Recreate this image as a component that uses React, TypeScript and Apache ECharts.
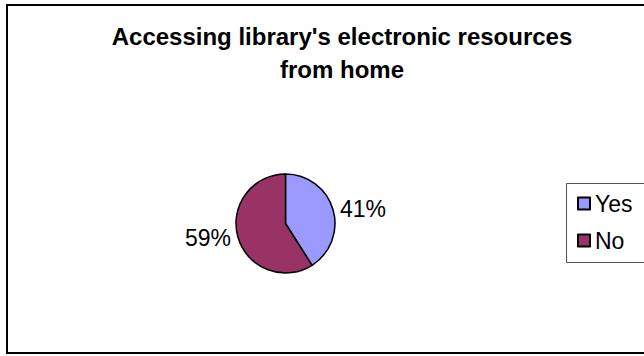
import React, { useEffect, useRef } from "react";
import * as echarts from "echarts";

const titleLines = ["Accessing library's electronic resources", "from home"];
const categories = ["Yes", "No"];
const values = [41, 59];
const colors = ["#9999FF", "#993366"];

export default function App() {
  const ref = useRef<HTMLDivElement>(null);
  useEffect(() => {
    document.body.style.margin = "0";
    const chart = echarts.init(ref.current!, null, { renderer: "svg" });
    chart.setOption({
      animation: false,
      backgroundColor: "#ffffff",
      title: {
        text: titleLines.join("\n"),
        left: 337,
        textAlign: "center",
        top: 15,
        textStyle: {
          fontFamily: "Liberation Sans, Arial",
          fontWeight: "bold",
          fontSize: 24,
          lineHeight: 33,
          color: "#000",
        },
      },
      graphic: [
        {
          type: "rect",
          shape: { x: 7, y: 5, width: 660, height: 348 },
          style: { fill: "none", stroke: "#000", lineWidth: 2 },
          silent: true,
        },
        {
          type: "rect",
          shape: { x: 566.5, y: 183.5, width: 100, height: 79 },
          style: { fill: "none", stroke: "#555", lineWidth: 1 },
          silent: true,
        },
      ],
      legend: {
        orient: "vertical",
        left: 577,
        top: 192,
        itemWidth: 12,
        itemHeight: 12,
        itemGap: 14,
        icon: "rect",
        padding: 0,
        textStyle: {
          fontFamily: "Liberation Sans, Arial",
          fontSize: 23,
          color: "#000",
          padding: [0, 0, 0, 0],
        },
        data: categories,
      },
      series: [
        {
          type: "pie",
          center: [285.5, 223.5],
          radius: 49.5,
          startAngle: 90,
          clockwise: true,
          avoidLabelOverlap: false,
          itemStyle: { borderColor: "#000", borderWidth: 1.5 },
          label: {
            show: true,
            position: "outside",
            formatter: "{d}%",
            fontFamily: "Liberation Sans, Arial",
            fontSize: 23,
            color: "#000",
          },
          labelLine: { show: false, length: 2, length2: 0 },
          emphasis: { disabled: true },
          data: categories.map((name, i) => ({
            name,
            value: values[i],
            itemStyle: { color: colors[i] },
          })),
        },
      ],
    });
    return () => chart.dispose();
  }, []);
  return (
    <div
      ref={ref}
      style={{ width: 644, height: 356, position: "absolute", left: 0, top: 0 }}
    />
  );
}
